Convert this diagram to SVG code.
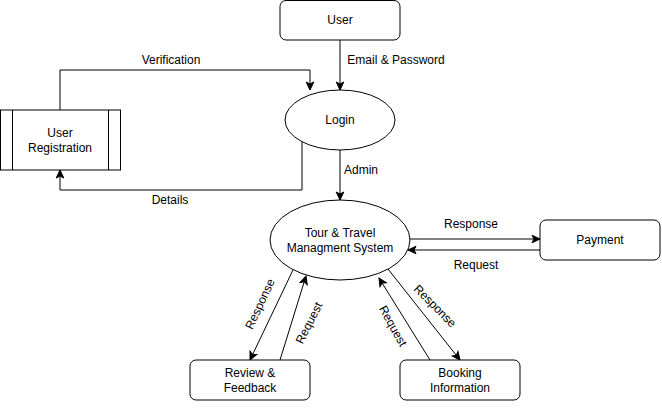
<svg xmlns="http://www.w3.org/2000/svg" width="662" height="410" viewBox="0 0 662 410">
<style>
.box{fill:#fff;stroke:#000;stroke-width:1}
.ln{fill:none;stroke:#000;stroke-width:1;marker-end:url(#arr)}
text{font-family:"Liberation Sans",Arial,sans-serif;font-size:12px;fill:#000;text-anchor:middle;dominant-baseline:central}
</style>
<defs>
<marker id="arr" markerUnits="userSpaceOnUse" markerWidth="10" markerHeight="10" viewBox="0 0 10 10" refX="9" refY="5" orient="auto">
<path d="M1,1.2 L9,5 L1,8.8 L3,5 z" fill="#000" stroke="#000" stroke-width="1"/>
</marker>
</defs>
<rect width="662" height="410" fill="#fff"/>
<g id="connectors">
<path class="ln" d="M340,40 L340,90"/>
<path class="ln" d="M60,110 L60,70 L310,70 L310,90"/>
<path class="ln" d="M302,140 L302,190 L60,190 L60,170"/>
<path class="ln" d="M340,150 L340,200"/>
<path class="ln" d="M409,239 L540,239"/>
<path class="ln" d="M540,250 L408,250"/>
<path class="ln" d="M293,270 L250,360"/>
<path class="ln" d="M280,360 L306,276"/>
<path class="ln" d="M430,360 L379,278"/>
<path class="ln" d="M388,269 L460,360"/>
<text x="171" y="60">Verification</text>
<text x="396" y="60">Email &amp; Password</text>
<text x="361" y="170">Admin</text>
<text x="170" y="200">Details</text>
<text x="471" y="224">Response</text>
<text x="476" y="265">Request</text>
<text transform="translate(260,304) rotate(-65)">Response</text>
<text transform="translate(309,323) rotate(-63)">Request</text>
<text transform="translate(393,326) rotate(61)">Request</text>
<text transform="translate(435,306) rotate(45)">Response</text>
</g>
<g id="user">
<rect class="box" x="280" y="0.5" width="120" height="39.5" rx="6"/>
<text x="340" y="20">User</text>
</g>
<g id="login">
<ellipse class="box" cx="340" cy="120" rx="55" ry="30"/>
<text x="340" y="120">Login</text>
</g>
<g id="user-registration">
<rect class="box" x="0.5" y="110" width="120" height="60"/>
<line x1="12.5" y1="110" x2="12.5" y2="170" stroke="#000"/>
<line x1="108.5" y1="110" x2="108.5" y2="170" stroke="#000"/>
<text x="60" y="133">User</text>
<text x="60" y="148">Registration</text>
</g>
<g id="system">
<ellipse class="box" cx="340" cy="240" rx="70" ry="40"/>
<text x="340" y="233">Tour &amp; Travel</text>
<text x="340" y="248">Managment System</text>
</g>
<g id="payment">
<rect class="box" x="540" y="220" width="120" height="40" rx="6"/>
<text x="600" y="240">Payment</text>
</g>
<g id="review">
<rect class="box" x="190" y="360" width="120" height="40" rx="6"/>
<text x="250" y="373">Review &amp;</text>
<text x="250" y="388">Feedback</text>
</g>
<g id="booking">
<rect class="box" x="400" y="360" width="120" height="40" rx="6"/>
<text x="460" y="373">Booking</text>
<text x="460" y="388">Information</text>
</g>
</svg>
